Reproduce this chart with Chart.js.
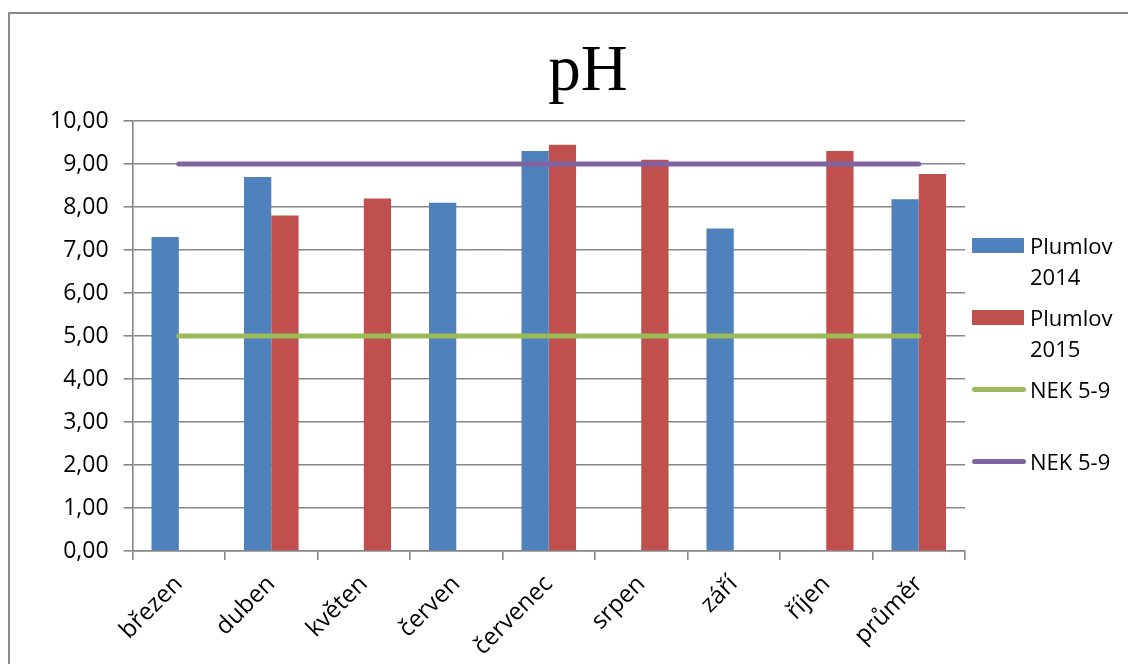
<!DOCTYPE html>
<html>
<head>
<meta charset="utf-8">
<script src="https://cdn.jsdelivr.net/npm/chart.js@4.4.1/dist/chart.umd.min.js"></script>
<style>
  body { margin: 0; background: #fff; }
  #wrap { position: relative; width: 1128px; height: 664px; overflow: hidden; }
  #frame { position: absolute; left: 8px; top: 12px; width: 1200px; height: 800px;
           border-left: 2px solid #8a8a8a; border-top: 2px solid #8a8a8a; }
  #title { position: absolute; left: 488px; top: 36px; width: 200px; text-align: center;
           font-family: "Liberation Serif", serif; font-size: 65px; line-height: 65px; color: #000; }
  #legend { position: absolute; left: 970px; top: 230px; width: 158px;
            font-family: "Open Sans", sans-serif; font-size: 22px; line-height: 31px; color: #000; }
  .item { position: relative; height: 72px; padding-left: 60px; width: 95px; }
  .sym { position: absolute; left: 2px; }
  canvas { position: absolute; left: 0; top: 0; }
</style>
</head>
<body>
<div id="wrap">
  <div id="frame"></div>
  <canvas id="phChart" width="1128" height="671"></canvas>
  <div id="title">pH</div>
  <div id="legend"></div>
</div>
<script>
const months = ["březen", "duben", "květen", "červen", "červenec", "srpen", "září", "říjen", "průměr"];
const plumlov2014 = [7.3, 8.7, null, 8.1, 9.3, null, 7.5, null, 8.18];
const plumlov2015 = [null, 7.8, 8.2, null, 9.45, 9.1, null, 9.3, 8.77];
const nekMin = [5, 5, 5, 5, 5, 5, 5, 5, 5];
const nekMax = [9, 9, 9, 9, 9, 9, 9, 9, 9];
const seriesNames = ["Plumlov 2014", "Plumlov 2015", "NEK 5-9", "NEK 5-9"];

const gridGray = "#878787";
const fontFamily = "'Open Sans', sans-serif";

const ctx = document.getElementById("phChart").getContext("2d");
const chart = new Chart(ctx, {
  type: "bar",
  data: {
    labels: months,
    datasets: [
      { label: seriesNames[0], data: plumlov2014, backgroundColor: "#4F81BD", order: 2,
        categoryPercentage: 0.59, barPercentage: 1 },
      { label: seriesNames[1], data: plumlov2015, backgroundColor: "#C0504D", order: 2,
        categoryPercentage: 0.59, barPercentage: 1 },
      { type: "line", label: seriesNames[2], data: nekMin, borderColor: "#9BBB59", backgroundColor: "#9BBB59",
        borderWidth: 5, borderCapStyle: "round", pointRadius: 0, order: 1 },
      { type: "line", label: seriesNames[3], data: nekMax, borderColor: "#8064A2", backgroundColor: "#8064A2",
        borderWidth: 5, borderCapStyle: "round", pointRadius: 0, order: 1 }
    ]
  },
  options: {
    responsive: false,
    animation: false,
    layout: { padding: { left: 35, right: 163, top: 121, bottom: 0 } },
    plugins: {
      legend: { display: false },
      title: { display: false },
      tooltip: { enabled: false }
    },
    scales: {
      x: {
        offset: true,
        grid: { display: true, offset: true, drawOnChartArea: false, drawTicks: true,
                tickLength: 9, color: gridGray, lineWidth: 1.6 },
        border: { display: true, color: gridGray, width: 1.6 },
        ticks: { color: "#000", font: { family: fontFamily, size: 24 }, minRotation: 45, maxRotation: 45, padding: 10 }
      },
      y: {
        min: 0,
        max: 10,
        ticks: {
          stepSize: 1, color: "#000", padding: 15,
          font: { family: fontFamily, size: 23 },
          callback: v => v.toFixed(2).replace(".", ",")
        },
        grid: { color: gridGray, lineWidth: 1.6, tickLength: 9 },
        border: { display: true, color: gridGray, width: 1.6 }
      }
    }
  }
});

// html legend built from the datasets (labels wrap like the original)
const legend = document.getElementById("legend");
chart.data.datasets.forEach(ds => {
  const item = document.createElement("div");
  item.className = "item";
  const sym = document.createElement("div");
  sym.className = "sym";
  if (ds.type === "line") {
    sym.style.cssText = "top:13px;width:54px;height:5px;border-radius:3px;background:" + ds.borderColor;
  } else {
    sym.style.cssText = "top:8px;width:52px;height:15px;background:" + ds.backgroundColor;
  }
  item.appendChild(sym);
  item.appendChild(document.createTextNode(ds.label));
  legend.appendChild(item);
});
</script>
</body>
</html>
